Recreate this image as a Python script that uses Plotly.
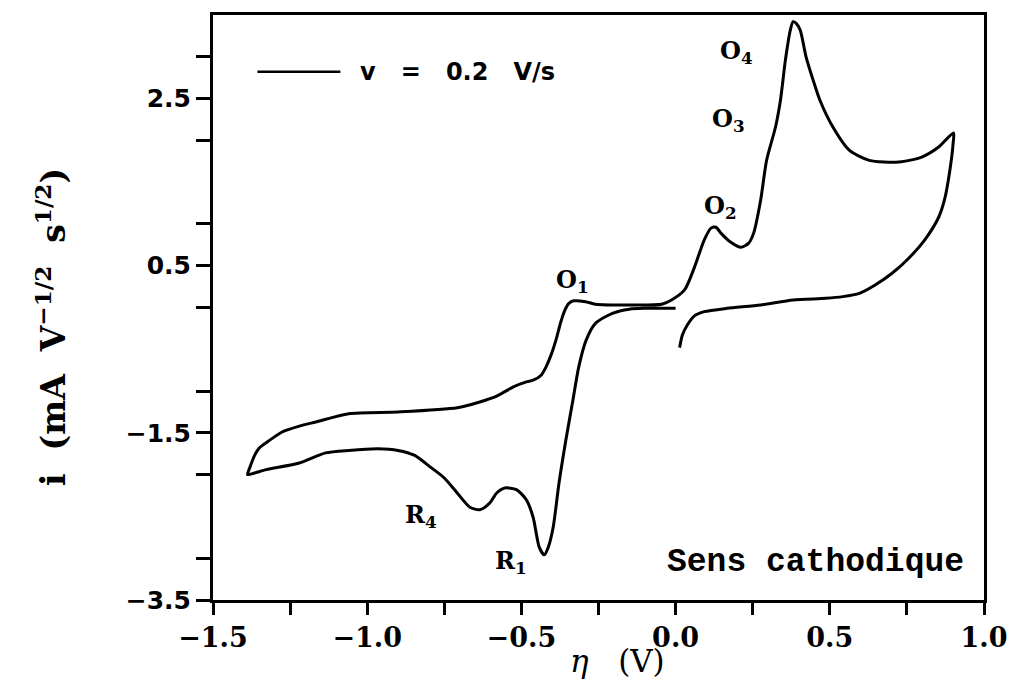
import plotly.graph_objects as go

# Cyclic voltammogram, v = 0.2 V/s, scan started towards negative potentials.
# Sweep 1: 0.0 V -> -1.39 V (cathodic)
eta_sweep1 = [0.00, -0.10, -0.15, -0.205, -0.26, -0.29, -0.314, -0.333, -0.356,
              -0.378, -0.397, -0.413, -0.426, -0.442, -0.462, -0.484, -0.516,
              -0.554, -0.58, -0.603, -0.635, -0.667, -0.708, -0.75, -0.795,
              -0.846, -0.90, -0.965, -1.06, -1.135, -1.22, -1.327, -1.365, -1.388]
i_sweep1 = [-0.01, -0.01, -0.02, -0.07, -0.19, -0.39, -0.71, -1.11, -1.59,
            -2.10, -2.63, -2.87, -2.96, -2.87, -2.51, -2.30, -2.18,
            -2.16, -2.22, -2.34, -2.42, -2.39, -2.22, -2.04, -1.91,
            -1.77, -1.71, -1.69, -1.71, -1.74, -1.86, -1.94, -1.98, -2.00]

# Sweep 2: -1.39 V -> 0.90 V (anodic)
eta_sweep2 = [-1.38, -1.365, -1.35, -1.317, -1.276, -1.22, -1.167, -1.06, -0.90,
              -0.708, -0.635, -0.58, -0.526, -0.484, -0.462, -0.436, -0.42,
              -0.404, -0.388, -0.372, -0.359, -0.346, -0.33, -0.292, -0.26,
              -0.154, -0.045, -0.013, 0.029, 0.061, 0.093, 0.115, 0.131, 0.147,
              0.179, 0.212, 0.237, 0.253, 0.276, 0.295, 0.324, 0.34, 0.356,
              0.372, 0.381, 0.391, 0.404, 0.423, 0.446, 0.468, 0.51, 0.564,
              0.628, 0.724, 0.798, 0.853, 0.901]
i_sweep2 = [-1.91, -1.77, -1.68, -1.59, -1.49, -1.42, -1.37, -1.27, -1.25,
            -1.20, -1.13, -1.06, -0.95, -0.89, -0.87, -0.81, -0.71,
            -0.57, -0.39, -0.17, -0.03, 0.05, 0.08, 0.07, 0.04,
            0.03, 0.04, 0.09, 0.21, 0.48, 0.81, 0.95, 0.96, 0.89,
            0.78, 0.72, 0.77, 0.89, 1.29, 1.76, 2.16, 2.48, 2.96,
            3.32, 3.42, 3.40, 3.32, 3.00, 2.72, 2.48, 2.16, 1.88,
            1.76, 1.74, 1.80, 1.92, 2.09]

# Sweep 3: 0.90 V -> 0.01 V (cathodic return)
eta_sweep3 = [0.90, 0.888, 0.872, 0.853, 0.808, 0.756, 0.702, 0.647, 0.596,
              0.542, 0.487, 0.381, 0.276, 0.167, 0.093, 0.061, 0.038, 0.022, 0.013]
i_sweep3 = [1.97, 1.61, 1.29, 1.08, 0.81, 0.59, 0.41, 0.27, 0.17,
            0.13, 0.11, 0.09, 0.03, -0.01, -0.05, -0.10, -0.21, -0.33, -0.48]

eta = eta_sweep1 + eta_sweep2 + eta_sweep3
current = i_sweep1 + i_sweep2 + i_sweep3

# Peak labels
peak_names = ["O<sub>1</sub>", "O<sub>2</sub>", "O<sub>3</sub>", "O<sub>4</sub>",
              "R<sub>1</sub>", "R<sub>4</sub>"]
peak_eta = [-0.333, 0.144, 0.173, 0.199, -0.535, -0.827]
peak_i = [0.32, 1.20, 2.24, 3.06, -3.05, -2.50]

nb = "\u00a0"
scan_rate_label = "v" + nb * 3 + "=" + nb * 3 + "0.2" + nb * 3 + "V/s"
direction_label = "Sens cathodique"

x_range = [-1.5, 1.0]
y_range = [-3.5, 3.5]

fig = go.Figure()
fig.add_trace(go.Scatter(x=eta, y=current, mode="lines",
                         line=dict(color="black", width=3, shape="spline",
                                   smoothing=0.7),
                         name=scan_rate_label, showlegend=False))

serif_bold = dict(family="DejaVu Serif", size=24, color="black", weight="bold")

for name, px_, py_ in zip(peak_names, peak_eta, peak_i):
    fig.add_annotation(x=px_, y=py_, text=name, showarrow=False,
                       xanchor="center", yanchor="middle", font=serif_bold)

fig.add_annotation(x=0.455, y=-3.05, text=direction_label, showarrow=False,
                   xanchor="center", yanchor="middle",
                   font=dict(family="Liberation Mono", size=33, color="black",
                             weight="bold"))

# Scan-rate key: line sample followed by its text
fig.add_shape(type="line", x0=-1.356, x1=-1.087, y0=2.82, y1=2.82,
              xref="x", yref="y", line=dict(color="black", width=2.5))
fig.add_annotation(x=-1.03, y=2.82, text=scan_rate_label, showarrow=False,
                   xanchor="left", yanchor="middle",
                   font=dict(family="DejaVu Sans", size=24, color="black",
                             weight="bold"))

# Axis titles
fig.add_annotation(xref="paper", yref="paper", x=-0.21, y=0.467,
                   text="i" + nb * 2 + "(mA" + nb * 2 + "V<sup>\u22121/2</sup>"
                        + nb * 2 + "s<sup>1/2</sup>)",
                   textangle=-90, showarrow=False, xanchor="center", yanchor="middle",
                   font=dict(family="DejaVu Serif", size=33, color="black",
                             weight="bold"))
fig.add_annotation(xref="paper", yref="paper", x=0.525, y=-0.138,
                   text="<i>\u03b7</i>" + nb * 3 + "(V)", showarrow=False,
                   xanchor="center", yanchor="bottom",
                   font=dict(family="DejaVu Serif", size=31, color="black"))

fig.update_xaxes(range=x_range, tick0=-1.5, dtick=0.5, tickformat=".1f",
                 ticks="outside", ticklen=12, tickwidth=2.5, tickcolor="black",
                 minor=dict(dtick=0.25, ticks="outside", ticklen=12, tickwidth=2.5,
                            tickcolor="black", showgrid=False),
                 showline=True, linewidth=3, linecolor="black", mirror=True,
                 showgrid=False, zeroline=False,
                 tickfont=dict(family="DejaVu Serif", size=27, color="black",
                               weight="bold"))
fig.update_yaxes(range=y_range, tick0=-3.5, dtick=2, tickformat=".1f",
                 ticks="outside", ticklen=14, tickwidth=2.5, tickcolor="black",
                 minor=dict(dtick=1, ticks="outside", ticklen=14, tickwidth=2.5,
                            tickcolor="black", showgrid=False),
                 showline=True, linewidth=3, linecolor="black", mirror=True,
                 showgrid=False, zeroline=False,
                 tickfont=dict(family="DejaVu Sans", size=25, color="black",
                               weight="bold"))

fig.update_layout(width=1019, height=680,
                  margin=dict(l=213, r=26, t=15, b=80),
                  paper_bgcolor="white", plot_bgcolor="white",
                  showlegend=False)

fig.write_html("out.html")
